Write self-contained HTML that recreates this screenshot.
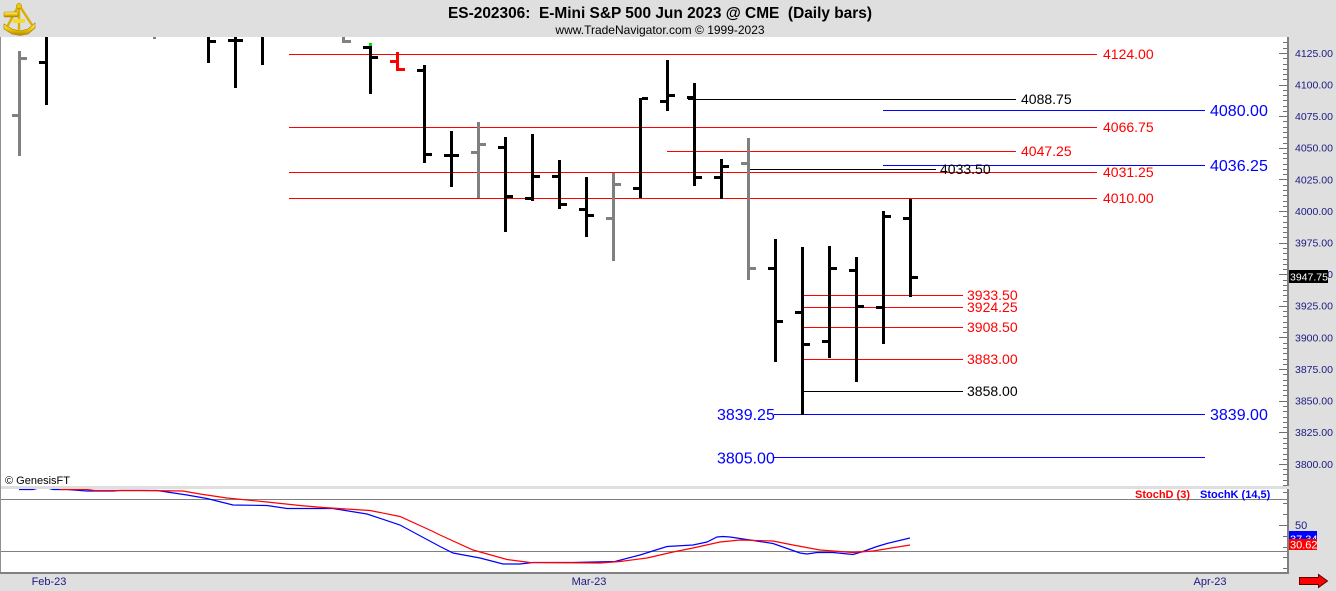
<!DOCTYPE html>
<html><head><meta charset="utf-8"><style>
html,body{margin:0;padding:0;background:#dfdfdf;}
svg{display:block;font-family:"Liberation Sans",Arial,sans-serif;}
</style></head><body>
<svg width="1336" height="591" viewBox="0 0 1336 591" xmlns="http://www.w3.org/2000/svg">
<defs>
<clipPath id="stc"><rect x="1" y="489" width="1286" height="83"/></clipPath>
<linearGradient id="gold" x1="0" y1="0" x2="0" y2="1"><stop offset="0" stop-color="#fff2a0"/><stop offset="0.5" stop-color="#f0c800"/><stop offset="1" stop-color="#b08800"/></linearGradient>
</defs>
<rect x="0" y="0" width="1336" height="591" fill="#dfdfdf"/>
<!-- logo -->
<g>
<path d="M4 24 L12 29 L20 31 L28 29 L35 23 L35 28 L28 34 L20 35.5 L12 34 L4 29 Z" fill="url(#gold)" stroke="#a07800" stroke-width="0.6"/>
<path d="M19 5 L7 27 M19 5 L32 25 M19 5 L19 31" stroke="#d8b000" stroke-width="2.4" fill="none"/>
<circle cx="19" cy="6" r="2.6" fill="#f0c800" stroke="#a07800" stroke-width="0.5"/>
<rect x="4" y="12" width="14" height="5" rx="1" fill="url(#gold)" stroke="#a07800" stroke-width="0.5"/>
<rect x="13" y="19" width="12" height="4" fill="#f5d830"/>
</g>
<!-- title -->
<text x="660" y="18" text-anchor="middle" font-size="15.5" font-weight="bold" fill="#000" textLength="424" lengthAdjust="spacingAndGlyphs" style="white-space:pre" xml:space="preserve">ES-202306:  E-Mini S&amp;P 500 Jun 2023 @ CME  (Daily bars)</text>
<text x="660" y="34" text-anchor="middle" font-size="12" fill="#000">www.TradeNavigator.com © 1999-2023</text>
<!-- chart panels -->
<rect x="1" y="37" width="1286" height="449" fill="#fff"/>
<rect x="1" y="489" width="1286" height="83" fill="#fff"/>
<rect x="0" y="37" width="1" height="537" fill="#909090"/>
<rect x="0" y="572" width="1289" height="2" fill="#808080"/>
<rect x="1287" y="37" width="2" height="449" fill="#808080"/>
<rect x="1287" y="489" width="2" height="85" fill="#808080"/>
<!-- price axis ticks -->
<path stroke="#707070" stroke-width="1" fill="none" d="
M1279 53.5h8 M1279 85.5h8 M1279 116.5h8 M1279 148.5h8 M1279 179.5h8 M1279 211.5h8 M1279 243.5h8 M1279 274.5h8 M1279 306.5h8 M1279 337.5h8 M1279 369.5h8 M1279 401.5h8 M1279 432.5h8 M1279 464.5h8
M1283 42.5h4 M1283 48.5h4
M1283 58.5h4 M1283 64.5h4 M1283 69.5h4 M1283 74.5h4 M1283 79.5h4
M1283 90.5h4 M1283 95.5h4 M1283 100.5h4 M1283 106.5h4 M1283 111.5h4
M1283 121.5h4 M1283 127.5h4 M1283 132.5h4 M1283 137.5h4 M1283 143.5h4
M1283 153.5h4 M1283 158.5h4 M1283 164.5h4 M1283 169.5h4 M1283 174.5h4
M1283 185.5h4 M1283 190.5h4 M1283 195.5h4 M1283 201.5h4 M1283 206.5h4
M1283 216.5h4 M1283 222.5h4 M1283 227.5h4 M1283 232.5h4 M1283 237.5h4
M1283 248.5h4 M1283 253.5h4 M1283 259.5h4 M1283 264.5h4 M1283 269.5h4
M1283 280.5h4 M1283 285.5h4 M1283 290.5h4 M1283 295.5h4 M1283 301.5h4
M1283 311.5h4 M1283 316.5h4 M1283 322.5h4 M1283 327.5h4 M1283 332.5h4
M1283 343.5h4 M1283 348.5h4 M1283 353.5h4 M1283 359.5h4 M1283 364.5h4
M1283 374.5h4 M1283 380.5h4 M1283 385.5h4 M1283 390.5h4 M1283 395.5h4
M1283 406.5h4 M1283 411.5h4 M1283 417.5h4 M1283 422.5h4 M1283 427.5h4
M1283 438.5h4 M1283 443.5h4 M1283 448.5h4 M1283 454.5h4 M1283 459.5h4
M1283 469.5h4 M1283 474.5h4 M1283 480.5h4 M1283 485.5h4
M1279 525.5h8 M1283 492.5h4 M1283 503.5h4 M1283 514.5h4 M1283 536.5h4 M1283 547.5h4 M1283 557.5h4 M1283 568.5h4"/>
<!-- price axis labels -->
<g font-size="10.5" fill="#1a1a80">
<text x="1295" y="56.8">4125.00</text>
<text x="1295" y="88.4">4100.00</text>
<text x="1295" y="120">4075.00</text>
<text x="1295" y="151.6">4050.00</text>
<text x="1295" y="183.3">4025.00</text>
<text x="1295" y="214.9">4000.00</text>
<text x="1295" y="246.5">3975.00</text>
<text x="1295" y="278.1">3950.00</text>
<text x="1295" y="309.7">3925.00</text>
<text x="1295" y="341.3">3900.00</text>
<text x="1295" y="372.9">3875.00</text>
<text x="1295" y="404.5">3850.00</text>
<text x="1295" y="436.2">3825.00</text>
<text x="1295" y="467.8">3800.00</text>
</g>
<rect x="1289" y="270" width="39" height="13" fill="#000"/>
<text x="1290" y="280.5" font-size="10.5" fill="#fff">3947.75</text>
<!-- horizontal level lines -->
<g shape-rendering="crispEdges">
<rect x="289" y="54" width="808" height="1" fill="#ff0000"/>
<rect x="289" y="127" width="808" height="1" fill="#ff0000"/>
<rect x="289" y="172" width="808" height="1" fill="#ff0000"/>
<rect x="289" y="198" width="808" height="1" fill="#ff0000"/>
<rect x="688" y="99" width="328" height="1" fill="#000"/>
<rect x="667" y="151" width="349" height="1" fill="#ff0000"/>
<rect x="748" y="169" width="188" height="1" fill="#000"/>
<rect x="883" y="110" width="322" height="1" fill="#0000ff"/>
<rect x="883" y="165" width="322" height="1" fill="#0000ff"/>
<rect x="802" y="295" width="161" height="1" fill="#ff0000"/>
<rect x="802" y="307" width="161" height="1" fill="#ff0000"/>
<rect x="802" y="327" width="161" height="1" fill="#ff0000"/>
<rect x="802" y="359" width="161" height="1" fill="#ff0000"/>
<rect x="802" y="391" width="161" height="1" fill="#000"/>
<rect x="774" y="414" width="431" height="1" fill="#0000ff"/>
<rect x="774" y="457" width="431" height="1" fill="#0000ff"/>
</g>
<!-- level labels -->
<g font-size="14">
<text x="1103" y="59" fill="#ff0000">4124.00</text>
<text x="1103" y="132" fill="#ff0000">4066.75</text>
<text x="1103" y="177" fill="#ff0000">4031.25</text>
<text x="1103" y="203" fill="#ff0000">4010.00</text>
<text x="1021" y="104" fill="#000">4088.75</text>
<text x="1021" y="156" fill="#ff0000">4047.25</text>
<text x="940" y="174" fill="#000">4033.50</text>
<text x="967" y="300" fill="#ff0000">3933.50</text>
<text x="967" y="312" fill="#ff0000">3924.25</text>
<text x="967" y="332" fill="#ff0000">3908.50</text>
<text x="967" y="364" fill="#ff0000">3883.00</text>
<text x="967" y="396" fill="#000">3858.00</text>
</g>
<g font-size="16" fill="#0000ff">
<text x="1210" y="115.8">4080.00</text>
<text x="1210" y="170.8">4036.25</text>
<text x="1210" y="419.8">3839.00</text>
<text x="717" y="419.8">3839.25</text>
<text x="717" y="463.4">3805.00</text>
</g>
<!-- OHLC bars -->
<g shape-rendering="crispEdges">
<g fill="#808080">
<rect x="18" y="51" width="3" height="105"/><rect x="12" y="114" width="6" height="3"/><rect x="21" y="57" width="6" height="3"/>
<rect x="153" y="37" width="3" height="2"/>
<rect x="342" y="37" width="3" height="6"/><rect x="345" y="40" width="6" height="3"/>
<rect x="477" y="122" width="3" height="76"/><rect x="471" y="151" width="6" height="3"/><rect x="480" y="143" width="6" height="3"/>
<rect x="612" y="173" width="3" height="88"/><rect x="606" y="217" width="6" height="3"/><rect x="615" y="183" width="6" height="3"/>
<rect x="747" y="138" width="3" height="142"/><rect x="741" y="162" width="6" height="3"/><rect x="750" y="267" width="6" height="3"/>
</g>
<g fill="#000">
<rect x="45" y="37" width="3" height="68"/><rect x="39" y="61" width="6" height="3"/>
<rect x="207" y="37" width="3" height="26"/><rect x="210" y="40" width="6" height="3"/>
<rect x="234" y="37" width="3" height="51"/><rect x="228" y="39" width="6" height="3"/><rect x="237" y="39" width="6" height="3"/>
<rect x="261" y="37" width="3" height="28"/>
<rect x="369" y="44" width="3" height="50"/><rect x="363" y="46" width="6" height="3"/><rect x="372" y="56" width="6" height="3"/>
<rect x="423" y="65" width="3" height="98"/><rect x="417" y="69" width="6" height="3"/><rect x="426" y="153" width="6" height="3"/>
<rect x="450" y="131" width="3" height="56"/><rect x="444" y="154" width="6" height="3"/><rect x="453" y="154" width="6" height="3"/>
<rect x="504" y="137" width="3" height="95"/><rect x="498" y="146" width="6" height="3"/><rect x="507" y="195" width="6" height="3"/>
<rect x="531" y="134" width="3" height="67"/><rect x="525" y="197" width="6" height="3"/><rect x="534" y="175" width="6" height="3"/>
<rect x="558" y="160" width="3" height="49"/><rect x="552" y="175" width="6" height="3"/><rect x="561" y="203" width="6" height="3"/>
<rect x="585" y="177" width="3" height="60"/><rect x="579" y="208" width="6" height="3"/><rect x="588" y="214" width="6" height="3"/>
<rect x="639" y="98" width="3" height="100"/><rect x="633" y="187" width="6" height="3"/><rect x="642" y="97" width="6" height="3"/>
<rect x="666" y="60" width="3" height="51"/><rect x="660" y="100" width="6" height="3"/><rect x="669" y="94" width="6" height="3"/>
<rect x="693" y="83" width="3" height="103"/><rect x="687" y="96" width="6" height="3"/><rect x="696" y="176" width="6" height="3"/>
<rect x="720" y="159" width="3" height="40"/><rect x="714" y="176" width="6" height="3"/><rect x="723" y="165" width="6" height="3"/>
<rect x="774" y="239" width="3" height="123"/><rect x="768" y="267" width="6" height="3"/><rect x="777" y="320" width="6" height="3"/>
<rect x="801" y="247" width="3" height="168"/><rect x="795" y="311" width="6" height="3"/><rect x="804" y="343" width="6" height="3"/>
<rect x="828" y="246" width="3" height="112"/><rect x="822" y="340" width="6" height="3"/><rect x="831" y="267" width="6" height="3"/>
<rect x="855" y="257" width="3" height="125"/><rect x="849" y="269" width="6" height="3"/><rect x="858" y="305" width="6" height="3"/>
<rect x="882" y="211" width="3" height="133"/><rect x="876" y="306" width="6" height="3"/><rect x="885" y="215" width="6" height="3"/>
<rect x="909" y="199" width="3" height="98"/><rect x="903" y="217" width="6" height="3"/><rect x="912" y="276" width="6" height="3"/>
</g>
<g fill="#ff0000">
<rect x="396" y="52" width="3" height="19"/><rect x="390" y="60" width="6" height="3"/><rect x="399" y="68" width="6" height="3"/>
</g>
<rect x="369" y="43" width="3" height="3" fill="#00e000"/>
</g>
<text x="5" y="484" font-size="11" fill="#000">© GenesisFT</text>
<!-- stochastic panel -->
<g shape-rendering="crispEdges">
<rect x="1" y="499" width="1286" height="1" fill="#808080"/>
<rect x="1" y="551" width="1286" height="1" fill="#808080"/>
</g>
<g clip-path="url(#stc)" fill="none" stroke-width="1.2">
<polyline stroke="#0000ff" points="19,489.5 33,489.5 43,487 53,489.5 67,489.5 87,491 113,491 120,490.5 157,490.5 167,492 187,495 207,498.5 233,505 267,505.5 287,508.5 333,508.5 367,514 400,525 440,546.5 453,553 480,558 503,564 520,564 533,562.5 573,562.5 615,561.5 640,555 667,546.5 693,545 707,542 717,537 723,536.5 730,537 750,540 773,543.5 800,553 807,554 817,552.5 833,552.5 853,554.5 863,551.5 877,546.5 887,543.5 910,538"/>
<polyline stroke="#ff0000" points="60,489.5 87,489.5 95,490.5 140,490.5 183,491 200,494 227,498 267,502 300,505.5 323,507.5 370,510.5 400,516.5 433,531.5 440,535 473,550 507,559.5 530,562.5 600,563 620,561.5 647,558 673,552 693,548 720,542 740,540 773,541 793,545 820,550 853,552.5 873,551 910,545"/>
</g>
<text x="1135" y="498" font-size="11" font-weight="bold" fill="#ff0000">StochD (3)</text>
<text x="1200" y="498" font-size="11" font-weight="bold" fill="#0000ff">StochK (14,5)</text>
<text x="1295" y="529" font-size="11" fill="#1a1a80">50</text>
<rect x="1289" y="531" width="28" height="9" fill="#0000ff"/>
<text x="1290" y="543" font-size="11" fill="#fff">37.34</text>
<rect x="1289" y="539" width="28" height="11" fill="#ff0000"/>
<text x="1290" y="548.5" font-size="11" fill="#fff">30.62</text>
<!-- date axis -->
<g font-size="11" fill="#1a1a80" text-anchor="middle">
<text x="49" y="585">Feb-23</text>
<text x="589" y="585">Mar-23</text>
<text x="1210" y="585">Apr-23</text>
</g>
<polygon points="1299.5,577.5 1318.5,577.5 1318.5,574.5 1327.5,581 1318.5,587.5 1318.5,584.5 1299.5,584.5" fill="#ff0000" stroke="#600000" stroke-width="1"/>
</svg>
</body></html>
